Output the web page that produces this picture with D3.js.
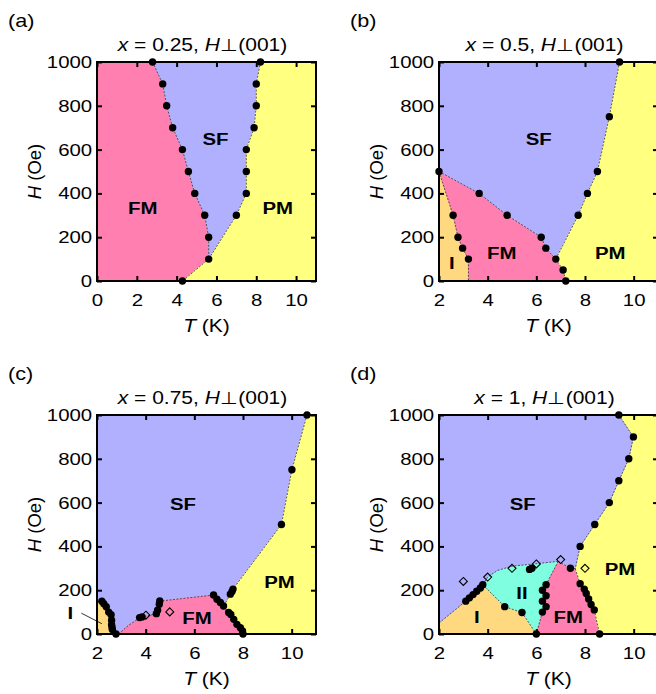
<!DOCTYPE html>
<html><head><meta charset="utf-8">
<script src="https://cdn.jsdelivr.net/npm/d3@7"></script>
<style>
body{margin:0;background:#fff}
svg{display:block}
text{font-family:"Liberation Sans",Arial,Helvetica,sans-serif;fill:#000}
</style>
</head><body>
<svg id="fig" width="656" height="694"></svg>
<script>
// ---- phase colours ----
const phaseColor = {FM:"#ff80b0", SF:"#b0b0ff", PM:"#ffff80", I:"#ffd980", II:"#80ffe0"};

// ---- tick values ----
const hTicks = [0, 200, 400, 600, 800, 1000];
const tTicksA = [0, 2, 4, 6, 8, 10];
const tTicksBCD = [2, 4, 6, 8, 10];

// ---- (a) x = 0.25 : phase boundaries [T (K), H (Oe)] ----
const aFmSf = [[2.79,1000],[3.3,900],[3.5,800],[3.8,700],[4.29,600],[4.59,500],[4.91,400],[5.41,300],[5.61,200],[5.61,100]];
const aSfPm = [[8.21,1000],[8.0,900],[8.0,800],[7.89,700],[7.5,600],[7.5,500],[7.5,400],[7.0,300],[5.61,100]];
const aFmPm = [[5.61,100],[4.29,0]];
const aPoints = [[2.79,1000],[3.3,900],[3.5,800],[3.8,700],[4.29,600],[4.59,500],[4.91,400],[5.41,300],[5.61,200],[5.61,100],[4.29,0],
                 [8.21,1000],[8.0,900],[8.0,800],[7.89,700],[7.5,600],[7.5,500],[7.5,400],[7.0,300]];
const aPhaseFM = [[0,0],[0,1000],[2.79,1000],[3.3,900],[3.5,800],[3.8,700],[4.29,600],[4.59,500],[4.91,400],[5.41,300],[5.61,200],[5.61,100],[4.29,0]];
const aPhaseSF = [[2.79,1000],[8.21,1000],[8.0,900],[8.0,800],[7.89,700],[7.5,600],[7.5,500],[7.5,400],[7.0,300],[5.61,100],[5.61,200],[5.41,300],[4.91,400],[4.59,500],[4.29,600],[3.8,700],[3.5,800],[3.3,900]];
const aPhasePM = [[8.21,1000],[11,1000],[11,0],[4.29,0],[5.61,100],[7.0,300],[7.5,400],[7.5,500],[7.5,600],[7.89,700],[8.0,800],[8.0,900]];

// ---- (b) x = 0.5 ----
const bIFm = [[2,500],[2.58,300],[2.78,200],[2.97,150],[3.21,100],[3.21,0]];
const bFmSf = [[2,500],[3.65,400],[4.8,300],[6.2,200],[6.39,150],[6.8,100]];
const bFmPm = [[6.8,100],[7.1,50],[7.21,0]];
const bSfPm = [[9.42,1000],[9.0,750],[8.51,500],[8.1,400],[7.72,300],[6.8,100]];
const bPoints = [[2,500],[3.65,400],[4.8,300],[6.2,200],[6.39,150],[6.8,100],[7.1,50],[7.21,0],
                 [2.58,300],[2.78,200],[2.97,150],[3.21,100],
                 [9.42,1000],[9.0,750],[8.51,500],[8.1,400],[7.72,300]];
const bPhaseI = [[2,0],[2,500],[2.58,300],[2.78,200],[2.97,150],[3.21,100],[3.21,0]];
const bPhaseFM = [[2,500],[3.65,400],[4.8,300],[6.2,200],[6.39,150],[6.8,100],[7.1,50],[7.21,0],[3.21,0],[3.21,100],[2.97,150],[2.78,200],[2.58,300]];
const bPhaseSF = [[2,500],[2,1000],[9.42,1000],[9.0,750],[8.51,500],[8.1,400],[7.72,300],[6.8,100],[6.39,150],[6.2,200],[4.8,300],[3.65,400]];
const bPhasePM = [[9.42,1000],[11,1000],[11,0],[7.21,0],[7.1,50],[6.8,100],[7.72,300],[8.1,400],[8.51,500],[9.0,750]];

// ---- (c) x = 0.75 ----
const cISf = [[2,145],[2.2,150],[2.28,138],[2.38,125],[2.48,100],[2.58,88],[2.6,63],[2.6,42],[2.62,30],[2.63,20],[2.78,0]];
const cSfFm = [[2.89,0],[3.3,40],[3.78,75],[4.44,93],[4.49,109],[4.56,136],[4.58,150],[6.79,178],[6.93,159],[7.07,144],[7.2,125]];
const cFmPm = [[7.2,125],[7.41,98],[7.5,89],[7.62,67],[7.75,44],[7.89,29],[7.98,14],[8.0,0]];
const cSfPm = [[10.63,1000],[10.01,750],[9.58,500],[7.59,205],[7.2,125]];
const cPoints = [[2.2,150],[2.28,138],[2.38,125],[2.48,100],[2.58,88],[2.6,63],[2.6,42],[2.62,30],[2.63,20],[2.78,0],
                 [3.75,75],[3.85,78],[4.44,93],[4.49,109],[4.56,136],[4.58,151],
                 [6.79,178],[6.93,159],[7.07,144],[7.2,128],[7.41,98],[7.5,89],[7.62,67],[7.75,44],[7.89,29],[7.98,14],[8.0,0],
                 [7.48,182],[7.55,194],[7.59,205],[9.58,500],[10.01,750],[10.63,1000]];
const cDiamonds = [[4.01,86],[4.99,101]];
const cPhaseI = [[2,0],[2,145],[2.2,150],[2.28,138],[2.38,125],[2.48,100],[2.58,88],[2.6,63],[2.6,42],[2.62,30],[2.63,20],[2.78,0]];
const cPhaseSF = [[2,145],[2,1000],[10.63,1000],[10.01,750],[9.58,500],[7.59,205],[7.2,125],[7.07,144],[6.93,159],[6.79,178],[4.58,150],[4.56,136],[4.49,109],[4.44,93],[3.78,75],[3.3,40],[2.89,0],[2.78,0],[2.63,20],[2.62,30],[2.6,42],[2.6,63],[2.58,88],[2.48,100],[2.38,125],[2.28,138],[2.2,150]];
const cPhaseFM = [[2.89,0],[3.3,40],[3.78,75],[4.44,93],[4.49,109],[4.56,136],[4.58,150],[6.79,178],[6.93,159],[7.07,144],[7.2,125],[7.41,98],[7.5,89],[7.62,67],[7.75,44],[7.89,29],[7.98,14],[8.0,0]];
const cPhasePM = [[10.63,1000],[11,1000],[11,0],[8.0,0],[7.98,14],[7.89,29],[7.75,44],[7.62,67],[7.5,89],[7.41,98],[7.2,125],[7.59,205],[9.58,500],[10.01,750]];

// ---- (d) x = 1 ----
const dSfI = [[2,50],[3.1,150],[3.25,165],[3.4,180],[3.55,195],[3.7,210],[3.8,225]];
const dIII = [[3.8,225],[4.7,125],[5.41,98],[6.0,0]];
const dIISf = [[3.8,225],[4.0,260],[4.4,290],[5.0,310],[5.75,318],[6.9,332]];
const dIIFm = [[6.9,332],[6.4,225],[6.25,200],[6.4,175],[6.25,150],[6.4,125],[6.25,100],[6.0,0]];
const dFmSf = [[6.9,332],[7.4,300],[7.6,298]];
const dSfPm = [[9.39,1000],[9.99,900],[9.8,800],[9.39,700],[9.0,600],[8.4,500],[7.8,400],[7.68,340],[7.6,298]];
const dFmPm = [[7.6,298],[7.8,230],[7.97,205],[8.05,185],[8.15,160],[8.25,135],[8.38,110],[8.6,0]];
const dPoints = [[9.39,1000],[9.99,900],[9.8,800],[9.39,700],[9.0,600],[8.4,500],[7.8,400],
                 [7.4,300],[7.8,230],[7.97,205],[8.05,185],[8.15,160],[8.25,135],[8.38,110],[8.6,0],
                 [6.4,225],[6.25,200],[6.4,175],[6.25,150],[6.4,125],[6.25,100],[6.0,0],
                 [5.72,295],[5.82,300],[4.7,125],[5.41,98],
                 [3.1,150],[3.25,165],[3.4,180],[3.55,195],[3.7,210],[3.8,225]];
const dDiamonds = [[3,240],[4,260],[5,300],[6,320],[7,340],[8,300]];
const dPhaseI = [[2,0],[2,50],[3.1,150],[3.25,165],[3.4,180],[3.55,195],[3.7,210],[3.8,225],[4.7,125],[5.41,98],[6.0,0]];
const dPhaseII = [[3.8,225],[4.0,260],[4.4,290],[5.0,310],[5.75,318],[6.9,332],[6.4,225],[6.25,200],[6.4,175],[6.25,150],[6.4,125],[6.25,100],[6.0,0],[5.41,98],[4.7,125]];
const dPhaseFM = [[6.0,0],[6.25,100],[6.4,125],[6.25,150],[6.4,175],[6.25,200],[6.4,225],[6.9,332],[7.4,300],[7.6,298],[7.8,230],[7.97,205],[8.05,185],[8.15,160],[8.25,135],[8.38,110],[8.6,0]];
const dPhasePM = [[9.39,1000],[11,1000],[11,0],[8.6,0],[8.38,110],[8.25,135],[8.15,160],[8.05,185],[7.97,205],[7.8,230],[7.6,298],[7.68,340],[7.8,400],[8.4,500],[9.0,600],[9.39,700],[9.8,800],[9.99,900]];
const dPhaseSF = [[2,50],[2,1000],[9.39,1000],[9.99,900],[9.8,800],[9.39,700],[9.0,600],[8.4,500],[7.8,400],[7.68,340],[7.6,298],[7.4,300],[6.9,332],[5.75,318],[5.0,310],[4.4,290],[4.0,260],[3.8,225],[3.7,210],[3.55,195],[3.4,180],[3.25,165],[3.1,150]];

// ---- panel set-up ----
const panels = [
  {tag:"(a)", comp:"0.25", left:97, top:62, tDomain:[0,11], tTicks:tTicksA,
   phases:[["FM",aPhaseFM],["SF",aPhaseSF],["PM",aPhasePM]],
   lines:[aFmSf,aSfPm,aFmPm], points:aPoints, diamonds:[],
   labels:[["SF",5.95,650],["FM",2.3,335],["PM",9.08,335]]},
  {tag:"(b)", comp:"0.5", left:439, top:62, tDomain:[2,11], tTicks:tTicksBCD,
   phases:[["I",bPhaseI],["FM",bPhaseFM],["SF",bPhaseSF],["PM",bPhasePM]],
   lines:[bIFm,bFmSf,bFmPm,bSfPm], points:bPoints, diamonds:[],
   labels:[["SF",6.1,650],["FM",4.58,130],["PM",9.04,130],["I",2.53,85]]},
  {tag:"(c)", comp:"0.75", left:97, top:415, tDomain:[2,11], tTicks:tTicksBCD,
   phases:[["I",cPhaseI],["SF",cPhaseSF],["FM",cPhaseFM],["PM",cPhasePM]],
   lines:[cISf,cSfFm,cFmPm,cSfPm], points:cPoints, diamonds:cDiamonds,
   labels:[["SF",5.53,595],["FM",6.11,75],["PM",9.5,240]],
   outside:{text:"I", t:0.9, h:95, leader:[[1.36,95],[2.2,47]]}},
  {tag:"(d)", comp:"1", left:439, top:415, tDomain:[2,11], tTicks:tTicksBCD,
   phases:[["I",dPhaseI],["II",dPhaseII],["FM",dPhaseFM],["PM",dPhasePM],["SF",dPhaseSF]],
   lines:[dSfI,dIII,dIISf,dIIFm,dFmSf,dSfPm,dFmPm], points:dPoints, diamonds:dDiamonds,
   labels:[["SF",5.44,595],["II",5.41,190],["I",3.55,80],["FM",7.31,80],["PM",9.44,297]]}
];

const PW = 219, PH = 219, SX = 1.2;
const svg = d3.select("#fig");
const line = d3.line();

panels.forEach((p, i) => {
  const x = d3.scaleLinear().domain(p.tDomain).range([p.left, p.left + PW]);
  const y = d3.scaleLinear().domain([0, 1000]).range([p.top + PH, p.top]);
  const g = svg.append("g");
  const clipId = "clip" + i;
  svg.append("clipPath").attr("id", clipId).append("rect")
    .attr("x", p.left).attr("y", p.top).attr("width", PW).attr("height", PH);

  const xy = d => [x(d[0]), y(d[1])];

  // phase regions
  const regions = g.append("g").attr("clip-path", `url(#${clipId})`);
  p.phases.forEach(([name, poly]) => {
    regions.append("path").attr("d", line(poly.map(xy)) + "Z")
      .attr("fill", phaseColor[name]).attr("stroke", phaseColor[name]).attr("stroke-width", 0.5);
  });
  // dashed phase boundaries
  p.lines.forEach(b => {
    regions.append("path").attr("d", line(b.map(xy)))
      .attr("fill", "none").attr("stroke", "#333").attr("stroke-width", 0.8)
      .attr("stroke-dasharray", "2,1.5");
  });

  // frame
  g.append("rect").attr("x", p.left).attr("y", p.top).attr("width", PW).attr("height", PH)
    .attr("fill", "none").attr("stroke", "#000").attr("stroke-width", 2);

  // axes with inward ticks on all four sides
  const styleAxis = sel => {
    sel.select(".domain").remove();
    sel.selectAll(".tick line").attr("stroke", "#000").attr("stroke-width", 2);
    sel.selectAll(".tick text").attr("font-size", 17)
      .attr("font-family", "'Liberation Sans',Arial,sans-serif").attr("fill", "#000");
  };
  g.append("g").attr("transform", `translate(0,${p.top + PH})`)
    .call(d3.axisBottom(x).tickValues(p.tTicks).tickSize(-5).tickPadding(13).tickFormat(d3.format("d")))
    .call(styleAxis)
    .call(s => s.selectAll(".tick text").attr("transform", `scale(${SX},1)`));
  g.append("g").attr("transform", `translate(0,${p.top})`)
    .call(d3.axisTop(x).tickValues(p.tTicks).tickSize(-5).tickFormat(""))
    .call(styleAxis);
  g.append("g").attr("transform", `translate(${p.left},0)`)
    .call(d3.axisLeft(y).tickValues(hTicks).tickSize(-5).tickPadding(4).tickFormat(d3.format("d")))
    .call(styleAxis)
    .call(s => s.selectAll(".tick text").attr("transform", `scale(${SX},1)`));
  g.append("g").attr("transform", `translate(${p.left + PW},0)`)
    .call(d3.axisRight(y).tickValues(hTicks).tickSize(-5).tickFormat(""))
    .call(styleAxis);

  // phase names
  p.labels.forEach(([txt, t, h]) => {
    g.append("text").attr("transform", `translate(${x(t)},${y(h)}) scale(${SX},1)`)
      .attr("text-anchor", "middle").attr("dy", "0.36em")
      .attr("font-size", 17).attr("font-weight", "bold").text(txt);
  });
  if (p.outside) {
    const o = p.outside;
    g.append("path").attr("d", line(o.leader.map(xy)))
      .attr("stroke", "#000").attr("stroke-width", 0.8).attr("fill", "none");
    g.append("text").attr("transform", `translate(${x(o.t)},${y(o.h)}) scale(${SX},1)`)
      .attr("text-anchor", "middle").attr("dy", "0.36em")
      .attr("font-size", 17).attr("font-weight", "bold").text(o.text);
  }

  // measured transition points
  g.append("g").selectAll("circle").data(p.points).join("circle")
    .attr("cx", d => x(d[0])).attr("cy", d => y(d[1])).attr("r", 3.7).attr("fill", "#000");
  g.append("g").selectAll("path").data(p.diamonds).join("path")
    .attr("transform", d => `translate(${x(d[0])},${y(d[1])})`)
    .attr("d", "M0,-4L4,0L0,4L-4,0Z")
    .attr("fill", "none").attr("stroke", "#000").attr("stroke-width", 1.1);

  // axis titles
  const cx = p.left + PW / 2;
  const tt = g.append("text").attr("transform", `translate(${cx},${p.top + PH + 51}) scale(${SX},1)`)
    .attr("text-anchor", "middle").attr("font-size", 17.5);
  tt.append("tspan").attr("font-style", "italic").text("T");
  tt.append("tspan").text(" (K)");
  const ht = g.append("text").attr("transform", `translate(${p.left - 56},${p.top + PH / 2}) rotate(-90)`)
    .attr("text-anchor", "middle").attr("font-size", 18.5);
  ht.append("tspan").attr("font-style", "italic").text("H");
  ht.append("tspan").text(" (Oe)");

  // panel heading
  const hd = g.append("text").attr("transform", `translate(${cx - 4},${p.top - 11}) scale(${SX},1)`)
    .attr("text-anchor", "middle").attr("font-size", 17.5);
  hd.append("tspan").attr("font-style", "italic").text("x");
  hd.append("tspan").text(` = ${p.comp}, `);
  hd.append("tspan").attr("font-style", "italic").text("H");
  hd.append("tspan").text("\u22A5(001)");

  // panel letter
  g.append("text").attr("transform", `translate(${p.left - 89},${p.top - 35}) scale(${SX},1)`)
    .attr("font-size", 18).text(p.tag);
});
</script>
</body></html>
